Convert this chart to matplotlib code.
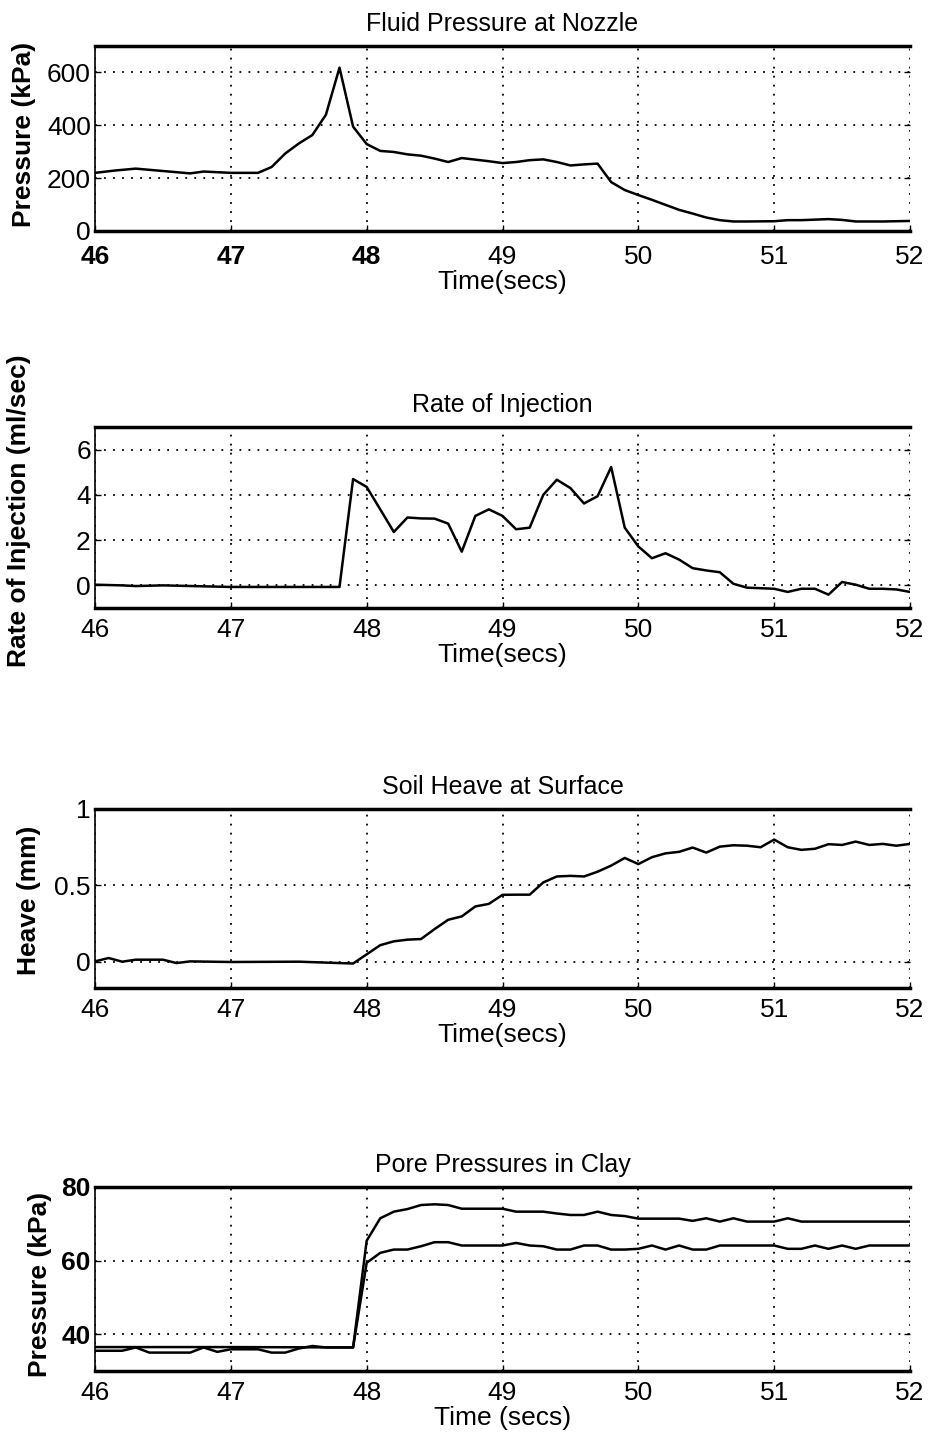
import numpy as np
import matplotlib
matplotlib.use('Agg')
import matplotlib.pyplot as plt

plt.rcParams['font.family'] = ['Liberation Sans', 'DejaVu Sans']

# ---- data ----
t_nozzle = [46.0, 46.15, 46.3, 46.5, 46.7, 46.8, 47.0, 47.2, 47.3, 47.4, 47.5, 47.6,
            47.7, 47.8, 47.9, 48.0, 48.1, 48.2, 48.3, 48.4, 48.5, 48.6, 48.7, 48.8,
            48.9, 49.0, 49.1, 49.2, 49.3, 49.4, 49.5, 49.6, 49.7, 49.8, 49.9, 50.0,
            50.1, 50.2, 50.3, 50.4, 50.5, 50.6, 50.7, 50.8, 51.0, 51.1, 51.2, 51.4,
            51.5, 51.6, 51.8, 52.0]
p_nozzle = [220, 229, 236, 227, 218, 225, 220, 220, 242, 293, 331, 363,
            440, 618, 395, 329, 303, 299, 290, 285, 274, 261, 276, 270,
            264, 257, 261, 268, 271, 261, 248, 252, 255, 185, 155, 136,
            118, 99, 80, 66, 51, 41, 36, 36, 37, 41, 41, 45,
            42, 36, 36, 38]

t_rate = [46.0, 46.2, 46.3, 46.5, 47.0, 47.8, 47.9, 48.0, 48.1, 48.2, 48.3, 48.4,
          48.5, 48.6, 48.7, 48.8, 48.9, 49.0, 49.1, 49.2, 49.3, 49.4, 49.5, 49.6,
          49.7, 49.8, 49.9, 50.0, 50.1, 50.2, 50.3, 50.4, 50.5, 50.6, 50.7, 50.8,
          51.0, 51.1, 51.2, 51.3, 51.4, 51.5, 51.6, 51.7, 51.8, 51.9, 52.0]
q_rate = [0.03, 0.0, -0.03, 0.0, -0.07, -0.07, 4.7, 4.35, 3.36, 2.36, 3.0, 2.96,
          2.95, 2.73, 1.49, 3.07, 3.36, 3.07, 2.48, 2.55, 4.0, 4.67, 4.3, 3.62,
          3.94, 5.23, 2.55, 1.72, 1.2, 1.42, 1.14, 0.76, 0.66, 0.58, 0.07, -0.1,
          -0.15, -0.29, -0.15, -0.15, -0.41, 0.15, 0.03, -0.15, -0.15, -0.18, -0.29]

t_heave = [46.0, 46.1, 46.2, 46.3, 46.5, 46.6, 46.7, 47.0, 47.5, 47.9, 48.0, 48.1,
           48.2, 48.3, 48.4, 48.5, 48.6, 48.7, 48.8, 48.9, 49.0, 49.1, 49.2, 49.3,
           49.4, 49.5, 49.6, 49.7, 49.8, 49.9, 50.0, 50.1, 50.2, 50.3, 50.4, 50.5,
           50.6, 50.7, 50.8, 50.9, 51.0, 51.1, 51.2, 51.3, 51.4, 51.5, 51.6, 51.7,
           51.8, 51.9, 52.0]
h_heave = [0.004, 0.026, 0.002, 0.015, 0.015, -0.007, 0.004, 0.0, 0.002, -0.01, 0.05, 0.11,
           0.135, 0.146, 0.15, 0.215, 0.276, 0.298, 0.363, 0.38, 0.439, 0.44, 0.44, 0.52,
           0.559, 0.563, 0.559, 0.59, 0.63, 0.68, 0.64, 0.685, 0.71, 0.72, 0.748, 0.715,
           0.754, 0.763, 0.76, 0.75, 0.80, 0.75, 0.733, 0.74, 0.77, 0.765, 0.787, 0.765,
           0.772, 0.76, 0.772]

t_pore_a = [46.0, 47.0, 47.9, 48.0, 48.1, 48.2, 48.3, 48.4, 48.5, 48.6, 48.7, 49.0,
            49.1, 49.3, 49.4, 49.5, 49.6, 49.7, 49.8, 49.9, 50.0, 50.3, 50.4, 50.5,
            50.6, 50.7, 50.8, 51.0, 51.1, 51.2, 52.0]
p_pore_a = [36.5, 36.5, 36.4, 65.4, 71.5, 73.3, 74.0, 75.1, 75.3, 75.1, 74.1, 74.1,
            73.3, 73.3, 72.8, 72.4, 72.4, 73.3, 72.4, 72.1, 71.4, 71.4, 70.8, 71.5,
            70.6, 71.5, 70.6, 70.6, 71.5, 70.6, 70.6]

t_pore_b = [46.0, 46.2, 46.3, 46.4, 46.7, 46.8, 46.9, 47.0, 47.2, 47.3, 47.4, 47.5,
            47.6, 47.7, 47.9, 48.0, 48.1, 48.2, 48.3, 48.4, 48.5, 48.6, 48.7, 49.0,
            49.1, 49.2, 49.3, 49.4, 49.5, 49.6, 49.7, 49.8, 49.9, 50.0, 50.1, 50.2,
            50.3, 50.4, 50.5, 50.6, 51.0, 51.1, 51.2, 51.3, 51.4, 51.5, 51.6, 51.7,
            52.0]
p_pore_b = [35.5, 35.5, 36.4, 35.0, 35.0, 36.4, 35.2, 35.9, 35.9, 35.0, 35.0, 36.1,
            36.8, 36.4, 36.4, 59.4, 62.1, 63.0, 63.0, 63.9, 65.0, 65.0, 64.1, 64.1,
            64.8, 64.1, 63.9, 63.0, 63.0, 64.1, 64.1, 63.0, 63.0, 63.2, 64.1, 63.0,
            64.1, 63.0, 63.0, 64.1, 64.1, 63.2, 63.2, 64.1, 63.2, 64.1, 63.2, 64.1,
            64.1]

x_ticks = [46, 47, 48, 49, 50, 51, 52]

W, H = 930, 1440
fig = plt.figure(figsize=(W / 100, H / 100), dpi=100)


def make_axes(top_px, bottom_px):
    left, right = 95, 910
    return fig.add_axes([left / W, 1 - bottom_px / H, (right - left) / W,
                         (bottom_px - top_px) / H])


def style(ax, title, ylabel, ylim, yticks, yticklabels, xlabel, label_xy,
          bold_x=(), bold_y=False, xpad=7):
    ax.set_xlim(46, 52)
    ax.set_ylim(*ylim)
    ax.set_xticks(x_ticks)
    ax.set_xticklabels([str(v) for v in x_ticks], fontsize=19)
    for lab in ax.get_xticklabels():
        if lab.get_text() in bold_x:
            lab.set_fontweight('bold')
    ax.set_yticks(yticks)
    ax.set_yticklabels(yticklabels, fontsize=19,
                       fontweight='bold' if bold_y else 'normal')
    ax.grid(True, color='black', linestyle=(0, (1, 4)), linewidth=1.3)
    ax.tick_params(direction='in', length=4, width=1, right=True,
                   top=False, colors='black')
    ax.tick_params(axis='x', pad=xpad)
    ax.tick_params(axis='y', pad=3)
    ax.spines['top'].set_linewidth(2.5)
    ax.spines['bottom'].set_linewidth(2.5)
    ax.spines['left'].set_linewidth(1.2)
    ax.spines['right'].set_visible(False)
    ax.set_title(title, fontsize=18, pad=11)
    ax.set_xlabel(xlabel, fontsize=19, labelpad=1)
    ax.set_ylabel(ylabel, fontsize=19, fontweight='bold')
    ax.yaxis.set_label_coords(*label_xy)


# Panel 1
ax1 = make_axes(46, 231)
ax1.plot(t_nozzle, p_nozzle, color='black', linewidth=1.8)
style(ax1, 'Fluid Pressure at Nozzle', 'Pressure (kPa)', (0, 700),
      [0, 200, 400, 600], ['0', '200', '400', '600'], 'Time(secs)',
      (-0.072, 0.52), bold_x=('46', '47', '48'), xpad=10)

# Panel 2
ax2 = make_axes(427, 608)
ax2.plot(t_rate, q_rate, color='black', linewidth=1.8)
style(ax2, 'Rate of Injection', 'Rate of Injection (ml/sec)', (-1, 7),
      [0, 2, 4, 6], ['0', '2', '4', '6'], 'Time(secs)', (-0.078, 0.54))

# Panel 3
ax3 = make_axes(809, 988)
ax3.plot(t_heave, h_heave, color='black', linewidth=1.8)
style(ax3, 'Soil Heave at Surface', 'Heave (mm)', (-0.17, 1),
      [0, 0.5, 1], ['0', '0.5', '1'], 'Time(secs)', (-0.066, 0.49))

# Panel 4
ax4 = make_axes(1187, 1371)
ax4.plot(t_pore_a, p_pore_a, color='black', linewidth=1.8)
ax4.plot(t_pore_b, p_pore_b, color='black', linewidth=1.8)
style(ax4, 'Pore Pressures in Clay', 'Pressure (kPa)', (30, 80),
      [40, 60, 80], ['40', '60', '80'], 'Time (secs)', (-0.053, 0.47),
      bold_y=True)

fig.savefig('out.png', dpi=100)
